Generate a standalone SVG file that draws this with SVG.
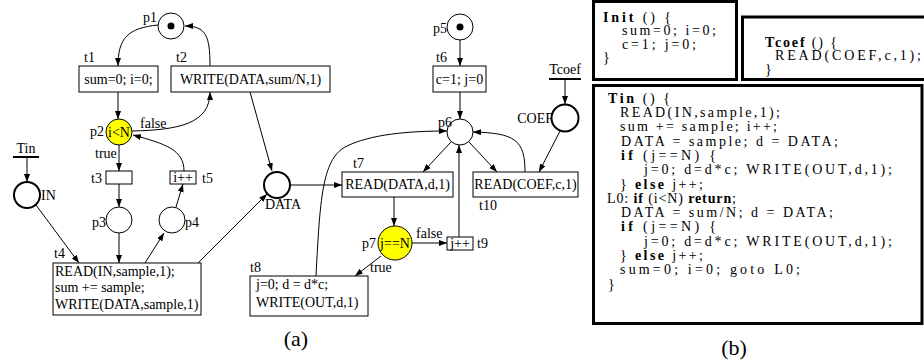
<svg xmlns="http://www.w3.org/2000/svg" width="924" height="364" viewBox="0 0 924 364">
<defs>
<marker id="ah" viewBox="0 0 8 6" refX="8" refY="3" markerWidth="8" markerHeight="6" orient="auto" markerUnits="userSpaceOnUse"><path d="M0,0 L8,3 L0,6 z" fill="#000"/></marker>
</defs>
<style>
text{font-family:"Liberation Serif","Times New Roman",serif;font-size:14px;fill:#000}
.c{text-anchor:middle}
.e{text-anchor:end}
.box{fill:#fff;stroke:#000;stroke-width:1}
.pl{fill:#fff;stroke:#000;stroke-width:1}
.io{fill:#fff;stroke:#000;stroke-width:2}
.cond{fill:#ffff00;stroke:#000;stroke-width:1}
.tok{fill:#000}
.bar{stroke:#000;stroke-width:2}
.arc{fill:none;stroke:#000;stroke-width:1;marker-end:url(#ah)}
.code{fill:none;stroke:#000;stroke-width:3}
.cd{font-size:14px}
.k{font-weight:bold}
.cap{font-size:22px}
</style>

<g id="connectors">
<path class="arc" d="M158,25 C128,28 118,38 118,66"/>
<path class="arc" d="M210,66 C210,36 206,26 185,26"/>
<path class="arc" d="M118,92 L118,119"/>
<path class="arc" d="M132,131 C178,130 210,124 210,92"/>
<path class="arc" d="M184,171 C184,150 166,144 133,135"/>
<path class="arc" d="M119,145 L119,171"/>
<path class="arc" d="M119,184 L119,207"/>
<path class="arc" d="M176,207 L183,184"/>
<path class="arc" d="M27,157 L27,182"/>
<path class="arc" d="M36,205 L79,263"/>
<path class="arc" d="M119,233 L119,263"/>
<path class="arc" d="M145,263 L164,233"/>
<path class="arc" d="M198,263 L267,194"/>
<path class="arc" d="M250,92 L272,171"/>
<path class="arc" d="M290,185 L342,185"/>
<path class="arc" d="M460,40 L460,66"/>
<path class="arc" d="M460,92 L460,119"/>
<path class="arc" d="M451,142 L423,172"/>
<path class="arc" d="M469,142 L497,172"/>
<path class="arc" d="M525,172 C525,140 515,133 473,132"/>
<path class="arc" d="M565,79 L565,104"/>
<path class="arc" d="M560,131 L539,172"/>
<path class="arc" d="M394,197 L394,226"/>
<path class="arc" d="M411,243 L447,243"/>
<path class="arc" d="M459,237 L459,145"/>
<path class="arc" d="M381,256 L355,276"/>
<path class="arc" d="M316,276 C320,200 322,160 345,147 C370,134 410,131 447,131"/>
</g>

<g id="p1"><circle class="pl" cx="171" cy="26" r="13"/><circle class="tok" cx="171" cy="26" r="3.5"/><text class="e" x="157" y="22">p1</text></g>
<g id="t1"><rect class="box" x="79" y="66" width="79" height="26"/><text class="c" x="118.5" y="84">sum=0; i=0;</text><text x="84" y="62">t1</text></g>
<g id="t2"><rect class="box" x="171" y="66" width="159" height="26"/><text class="c" x="250.5" y="84">WRITE(DATA,sum/N,1)</text><text x="176" y="62">t2</text></g>
<g id="p2"><circle class="cond" cx="119" cy="132" r="13"/><text class="c" x="119" y="137">i&lt;N</text><text class="e" x="104" y="136">p2</text></g>
<text x="140" y="128">false</text>
<text x="95" y="158">true</text>
<g id="t3"><rect class="box" x="106" y="171" width="26" height="13"/><text class="e" x="102" y="183">t3</text></g>
<g id="t5"><rect class="box" x="170" y="171" width="26" height="13"/><text class="c" x="183" y="182">i++</text><text x="202" y="183">t5</text></g>
<g id="p3"><circle class="pl" cx="119" cy="220" r="13"/><text class="e" x="106" y="227">p3</text></g>
<g id="p4"><circle class="pl" cx="172" cy="220" r="13"/><text x="185" y="227">p4</text></g>
<g id="Tin"><text class="c" x="26" y="153">Tin</text><line class="bar" x1="13" y1="157" x2="39" y2="157"/></g>
<g id="IN"><circle class="io" cx="27" cy="195" r="13"/><text x="41" y="200">IN</text></g>
<g id="t4"><rect class="box" x="53" y="263" width="148" height="52"/><text x="55" y="276">READ(IN,sample,1);</text><text x="55" y="292">sum += sample;</text><text x="55" y="309">WRITE(DATA,sample,1)</text><text x="54" y="258">t4</text></g>
<g id="DATA"><circle class="io" cx="277" cy="185" r="13"/><text class="c" x="283" y="209">DATA</text></g>
<g id="p5"><circle class="pl" cx="460" cy="27" r="13"/><circle class="tok" cx="460" cy="27" r="3.5"/><text class="e" x="447" y="33">p5</text></g>
<g id="t6"><rect class="box" x="433" y="66" width="53" height="26"/><text class="c" x="459.5" y="84">c=1; j=0</text><text x="436" y="62">t6</text></g>
<g id="p6"><circle class="pl" cx="460" cy="132" r="13"/><text class="e" x="452" y="127">p6</text></g>
<g id="Tcoef"><text class="c" x="565" y="74">Tcoef</text><line class="bar" x1="549" y1="79" x2="581" y2="79"/></g>
<g id="COEF"><circle class="io" cx="565" cy="118" r="13.5"/><text class="e" x="553" y="123">COEF</text></g>
<g id="t7"><rect class="box" x="342" y="172" width="111" height="25"/><text class="c" x="397.5" y="189">READ(DATA,d,1)</text><text x="353" y="168">t7</text></g>
<g id="t10"><rect class="box" x="473" y="172" width="105" height="25"/><text class="c" x="525.5" y="189">READ(COEF,c,1)</text><text x="479" y="210">t10</text></g>
<g id="p7"><circle class="cond" cx="395" cy="243" r="17"/><text class="c" x="395" y="248">j==N</text><text class="e" x="376" y="248">p7</text></g>
<text x="416" y="238">false</text>
<text x="370" y="272">true</text>
<g id="t9"><rect class="box" x="447" y="237" width="26" height="13"/><text class="c" x="460" y="248">j++</text><text x="477" y="248">t9</text></g>
<g id="t8"><rect class="box" x="250" y="276" width="118" height="40"/><text x="256" y="289">j=0; d = d*c;</text><text x="256" y="307">WRITE(OUT,d,1)</text><text x="250" y="272">t8</text></g>
<text class="c cap" x="296" y="346">(a)</text>

<g id="Init">
<rect class="code" x="593.5" y="1.5" width="143" height="78"/>
<text class="cd" x="603" y="21.5" textLength="68" lengthAdjust="spacing"><tspan class="k">Init</tspan> () {</text>
<text class="cd" x="622" y="35" textLength="94" lengthAdjust="spacing">sum=0; i=0;</text>
<text class="cd" x="622" y="48.5" textLength="74" lengthAdjust="spacing">c=1; j=0;</text>
<text class="cd" x="603" y="62">}</text>
</g>
<g id="TcoefCode">
<rect class="code" x="742.5" y="17" width="190" height="62.5"/>
<text class="cd" x="765" y="46.5" textLength="72" lengthAdjust="spacing"><tspan class="k">Tcoef</tspan> () {</text>
<text class="cd" x="775" y="60" textLength="146" lengthAdjust="spacing">READ(COEF,c,1);</text>
<text class="cd" x="765" y="73.5">}</text>
</g>
<g id="TinCode">
<rect class="code" x="593.5" y="85.5" width="328.5" height="238"/>
<text class="cd" x="608" y="102.7" textLength="62" lengthAdjust="spacing"><tspan class="k">Tin</tspan> () {</text>
<text class="cd" x="620" y="117" textLength="160" lengthAdjust="spacing">READ(IN,sample,1);</text>
<text class="cd" x="620" y="131.3" textLength="157" lengthAdjust="spacing">sum += sample; i++;</text>
<text class="cd" x="621" y="145.6" textLength="217" lengthAdjust="spacing">DATA = sample; d = DATA;</text>
<text class="cd" x="621" y="159.9" textLength="95" lengthAdjust="spacing"><tspan class="k">if</tspan> (j==N) {</text>
<text class="cd" x="644" y="174.2" textLength="248" lengthAdjust="spacing">j=0; d=d*c; WRITE(OUT,d,1);</text>
<text class="cd" x="620" y="188.5" textLength="83" lengthAdjust="spacing">} <tspan class="k">else</tspan> j++;</text>
<text class="cd" x="607" y="202.8" textLength="129" lengthAdjust="spacing">L0: <tspan class="k">if</tspan> (i&lt;N) <tspan class="k">return</tspan>;</text>
<text class="cd" x="621" y="217.1" textLength="212" lengthAdjust="spacing">DATA = sum/N; d = DATA;</text>
<text class="cd" x="621" y="231.4" textLength="95" lengthAdjust="spacing"><tspan class="k">if</tspan> (j==N) {</text>
<text class="cd" x="644" y="245.7" textLength="248" lengthAdjust="spacing">j=0; d=d*c; WRITE(OUT,d,1);</text>
<text class="cd" x="620" y="260" textLength="83" lengthAdjust="spacing">} <tspan class="k">else</tspan> j++;</text>
<text class="cd" x="620" y="274.3" textLength="180" lengthAdjust="spacing">sum=0; i=0; goto L0;</text>
<text class="cd" x="608" y="288.6">}</text>
</g>
<text class="c cap" x="734" y="355">(b)</text>
</svg>
